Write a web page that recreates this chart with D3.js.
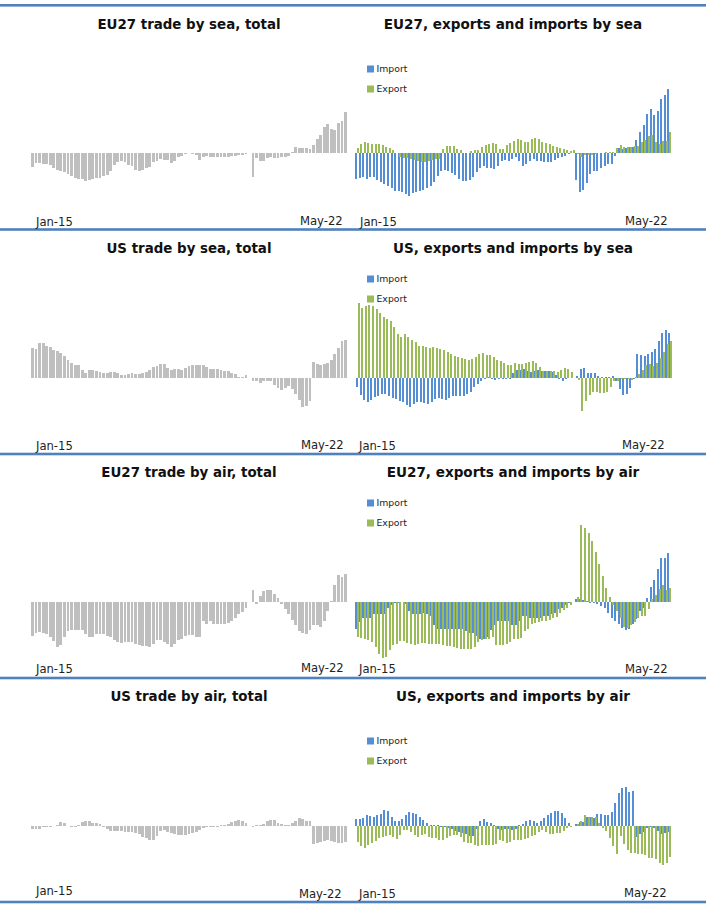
<!DOCTYPE html>
<html lang="en">
<head>
    <meta charset="UTF-8">
    <title>Trade by sea and air</title>
    <script src="https://cdn.jsdelivr.net/npm/d3@7/dist/d3.min.js"></script>
    <style>
        body { margin: 0; background: #fff; }
        svg { display: block; font-family: "DejaVu Sans", sans-serif; }
        .title { font-size: 13.4px; font-weight: bold; fill: #111; text-anchor: middle; }
        .title.right { font-size: 13.55px; }
        .tick-label { font-size: 11.6px; fill: #222; }
        .legend-label { font-size: 9.3px; fill: #222; }
        .bars rect { shape-rendering: crispEdges; }
    </style>
</head>
<body>
<script>

    /******* DATA *******/
    // Months, Jan-15 to May-22
    const months = d3.timeMonth.range(new Date(2015, 0, 1), new Date(2022, 5, 1)).map(d3.timeFormat("%b-%y"));
    const tickLabels = ["Jan-15", "May-22"];
    const seriesNames = ["Import", "Export"];

    const euSeaTotal = [
        -42,-30,-32,-34,-34,-36,-47,-52,-54,-58,
        -64,-70,-77,-79,-80,-85,-82,-78,-77,-75,
        -69,-67,-54,-37,-28,-26,-29,-37,-40,-52,
        -55,-52,-47,-42,-29,-24,-20,-22,-22,-30,
        -24,-12,-10,-4,-2,-4,-7,-22,-14,-10,
        -12,-12,-14,-14,-14,-12,-10,-10,-8,-8,
        -4,0,-72,-17,-25,-24,-15,-14,-17,-15,
        -12,-12,-10,2,18,13,15,15,12,24,
        42,54,78,87,70,69,88,96,122];
    const euSeaImport = [
        -79,-76,-72,-79,-74,-72,-82,-87,-94,-99,
        -107,-115,-115,-119,-125,-130,-120,-117,-115,-113,
        -106,-100,-87,-70,-55,-52,-55,-60,-67,-79,
        -85,-84,-82,-72,-57,-45,-40,-45,-45,-49,
        -39,-25,-22,-25,-18,-14,-25,-39,-34,-24,
        -20,-25,-24,-27,-27,-27,-22,-16,-13,-9,
        -4,0,-82,-117,-112,-90,-64,-55,-55,-45,
        -40,-34,-33,-10,13,12,15,17,17,38,
        62,83,116,130,113,125,161,173,191];
    const euSeaExport = [
        14,26,33,29,26,26,26,23,17,13,
        8,0,-12,-16,-15,-20,-23,-26,-27,-27,
        -26,-23,-20,-18,11,20,20,20,11,8,
        0,0,5,8,8,17,23,26,29,26,
        11,11,23,29,35,41,38,32,32,41,
        44,41,32,29,26,20,17,14,11,8,
        6,9,-3,-12,-8,-8,-6,-5,-2,0,
        3,3,3,14,23,18,17,17,20,21,
        33,39,51,54,33,27,36,36,63];

    const usSeaTotal = [
        90,87,105,105,97,93,84,81,75,66,
        54,45,39,39,24,15,24,24,21,18,
        15,15,18,18,15,9,9,12,15,12,
        12,15,18,24,32,37,42,42,30,25,
        27,27,25,30,37,39,39,39,39,33,
        27,27,27,25,22,21,15,12,3,4,
        9,0,-8,-9,-14,-10,-8,-9,-20,-30,
        -35,-30,-24,-33,-47,-65,-87,-83,-68,48,
        42,40,42,45,54,72,90,111,114];
    const usSeaImport = [
        -27,-50,-66,-72,-66,-57,-54,-48,-48,-54,
        -60,-63,-69,-72,-81,-87,-78,-72,-72,-75,
        -78,-72,-63,-60,-63,-66,-60,-54,-54,-54,
        -54,-48,-42,-27,-18,-9,-3,2,-2,-5,
        -3,-2,-2,-2,15,24,24,27,21,18,
        22,24,22,21,21,18,9,-3,-9,-3,
        1,0,6,27,30,15,15,15,6,3,
        3,3,6,-9,-33,-51,-48,-30,-3,72,
        69,66,72,78,87,111,135,144,135];
    const usSeaExport = [
        225,210,216,219,216,207,195,183,177,171,
        153,132,123,132,123,114,108,96,96,93,
        90,93,90,87,84,78,72,67,63,60,
        57,54,57,63,72,75,69,69,63,54,
        51,45,39,39,45,42,42,45,48,51,
        45,33,21,21,21,21,18,24,30,27,
        18,0,-6,-99,-69,-51,-42,-42,-45,-45,
        -42,-27,-9,-9,-3,-3,-2,-6,3,12,
        24,39,42,36,45,60,78,102,111];

    const euAirTotal = [
        -102,-94,-91,-93,-96,-106,-118,-136,-129,-106,
        -88,-85,-84,-84,-86,-98,-105,-105,-98,-96,
        -96,-102,-105,-115,-120,-123,-121,-121,-121,-126,
        -129,-132,-133,-135,-126,-115,-115,-120,-128,-136,
        -126,-114,-111,-102,-99,-99,-105,-105,-59,-66,
        -57,-66,-66,-66,-66,-63,-57,-48,-36,-31,
        -18,0,35,-6,16,32,36,34,22,11,
        -6,-21,-38,-54,-69,-87,-93,-96,-84,-69,
        -69,-75,-57,-27,3,50,80,74,83];
    const euAirImport = [
        -81,-60,-48,-48,-48,-36,-36,-36,-36,-18,
        -10,-5,-3,-2,-8,-27,-36,-36,-36,-33,
        -36,-43,-69,-83,-83,-83,-81,-81,-81,-81,
        -83,-88,-93,-94,-103,-111,-111,-105,-86,-69,
        -58,-58,-58,-58,-69,-71,-58,-43,-42,-48,
        -48,-49,-50,-43,-43,-38,-33,-23,-18,-10,
        -3,0,9,9,4,1,-3,-4,-7,-13,
        -18,-33,-48,-57,-68,-79,-84,-81,-66,-51,
        -27,-18,12,45,66,99,132,132,147];
    const euAirExport = [
        -105,-108,-111,-115,-121,-135,-156,-170,-167,-146,
        -131,-126,-119,-117,-123,-128,-131,-126,-125,-123,
        -128,-128,-128,-128,-131,-133,-133,-136,-140,-143,
        -143,-143,-143,-135,-121,-115,-111,-113,-105,-131,
        -131,-131,-128,-120,-111,-111,-108,-88,-83,-66,
        -65,-60,-58,-58,-56,-50,-46,-34,-25,-20,
        -10,0,15,231,222,207,183,150,114,78,
        42,15,-9,-28,-50,-75,-80,-70,-60,-50,
        -42,-42,-21,9,21,39,51,36,42];

    const usAirTotal = [
        -8,-10,-8,-4,-2,-2,-1,3,13,10,
        -1,-2,-3,2,12,15,15,10,8,5,
        -4,-10,-16,-16,-16,-16,-18,-18,-18,-22,
        -25,-33,-36,-42,-42,-30,-15,-12,-18,-22,
        -24,-27,-27,-27,-25,-22,-18,-12,-6,-3,
        -2,-2,-2,2,3,6,12,16,18,15,
        8,0,-2,2,3,6,14,18,17,10,
        5,3,3,10,14,24,21,14,15,-54,
        -51,-48,-44,-42,-45,-48,-50,-50,-48];
    const usAirImport = [
        21,21,24,33,30,27,33,36,48,45,
        27,15,15,21,33,42,39,36,27,18,
        9,3,3,3,-2,-3,-6,-9,-15,-18,
        -21,-24,-30,-30,-8,15,21,12,9,3,
        -10,-12,-9,-8,-12,-8,3,6,15,18,
        15,9,15,24,33,39,45,45,39,24,
        9,0,6,12,12,27,27,24,36,36,
        33,33,42,69,99,114,117,102,105,-33,
        -24,-18,-6,-3,-6,-15,-24,-21,-18];
    const usAirExport = [
        -48,-60,-66,-57,-51,-45,-36,-33,-30,-27,
        -33,-39,-27,-12,-12,-18,-27,-33,-27,-24,
        -33,-36,-36,-42,-42,-36,-30,-27,-27,-33,
        -48,-50,-50,-57,-60,-57,-57,-57,-57,-54,
        -42,-45,-50,-48,-42,-42,-42,-39,-36,-30,
        -27,-18,-12,-18,-24,-24,-21,-21,-15,-6,
        -3,0,6,15,33,27,27,27,9,-6,
        -15,-36,-60,-84,-30,-54,-72,-81,-81,-84,
        -84,-87,-96,-96,-99,-111,-117,-111,-93];

    /******* STYLING/FORMATTING *******/
    const width = 706;
    const height = 909;
    const colors = { Import: "#558ed5", Export: "#9bbb59", total: "#bfbfbf", rule: "#4f81bd" };

    // One row per trade flow. "base" is the zero line of the row, the rest place its texts
    const rows = [
        { base: 152.7, titleY: 29, total: euSeaTotal, imp: euSeaImport, exp: euSeaExport, rightX: 355,
          leftTitle: "EU27 trade by sea, total", rightTitle: "EU27, exports and imports by sea",
          legendY: 69, tickY: [226, 225, 226, 225], tickX: [36, 300, 360, 625] },
        { base: 378, titleY: 253, total: usSeaTotal, imp: usSeaImport, exp: usSeaExport, rightX: 356,
          leftTitle: "US trade by sea, total", rightTitle: "US, exports and imports by sea",
          legendY: 279, tickY: [450, 449, 450, 449], tickX: [36, 301, 359, 622] },
        { base: 601.7, titleY: 477, total: euAirTotal, imp: euAirImport, exp: euAirExport, rightX: 355,
          leftTitle: "EU27 trade by air, total", rightTitle: "EU27, exports and imports by air",
          legendY: 503, tickY: [673, 672, 673, 673], tickX: [36, 301, 359, 625] },
        { base: 826, titleY: 701, total: usAirTotal, imp: usAirImport, exp: usAirExport, rightX: 355,
          leftTitle: "US trade by air, total", rightTitle: "US, exports and imports by air",
          legendY: 741, tickY: [895, 898, 898, 897], tickX: [36, 299, 359, 624] }
    ];

    const svg = d3.select("body").append("svg")
        .attr("width", width)
        .attr("height", height)
        .attr("viewBox", `0 0 ${width} ${height}`);

    // Blue rules between the rows
    svg.selectAll(".rule")
        .data([5.3, 229.5, 454, 678, 902])
        .enter()
        .append("rect")
        .attr("class", "rule")
        .attr("x", 0)
        .attr("y", d => d - 1.3)
        .attr("width", width)
        .attr("height", 2.6)
        .attr("fill", colors.rule);

    /******* CHARTS *******/
    rows.forEach(row => {
        const g = svg.append("g");

        // 300 data units are 100 pixels
        const yScale = d3.scaleLinear()
            .domain([-300, 300])
            .range([row.base + 100, row.base - 100]);

        const barTop = d => Math.min(yScale(d), yScale(0));
        const barHeight = d => Math.abs(yScale(d) - yScale(0));

        // Left chart: total
        const xLeft = d3.scaleBand()
            .domain(months)
            .range([31, 347])
            .paddingInner(0.2);

        g.append("g")
            .attr("class", "bars")
            .selectAll("rect")
            .data(row.total)
            .enter()
            .append("rect")
            .attr("x", (d, i) => xLeft(months[i]))
            .attr("y", barTop)
            .attr("width", xLeft.bandwidth())
            .attr("height", barHeight)
            .attr("fill", colors.total);

        // Right chart: import and export side by side
        const xRight = d3.scaleBand()
            .domain(months)
            .range([row.rightX, row.rightX + 316]);
        const xSeries = d3.scaleBand()
            .domain(seriesNames)
            .range([0, xRight.bandwidth()]);

        [["Import", row.imp], ["Export", row.exp]].forEach(([name, values]) => {
            g.append("g")
                .attr("class", "bars")
                .selectAll("rect")
                .data(values)
                .enter()
                .append("rect")
                .attr("x", (d, i) => xRight(months[i]) + xSeries(name))
                .attr("y", barTop)
                .attr("width", 2)
                .attr("height", barHeight)
                .attr("fill", colors[name]);
        });

        // Titles
        g.append("text").attr("class", "title").attr("x", 189).attr("y", row.titleY).text(row.leftTitle);
        g.append("text").attr("class", "title right").attr("x", 513).attr("y", row.titleY).text(row.rightTitle);

        // First and last month under each chart
        row.tickX.forEach((x, i) => {
            g.append("text")
                .attr("class", "tick-label")
                .attr("x", x)
                .attr("y", row.tickY[i])
                .text(tickLabels[i % 2]);
        });

        // Legend
        seriesNames.forEach((name, i) => {
            const cy = row.legendY + i * 20;
            g.append("rect")
                .attr("x", 367)
                .attr("y", cy - 3.5)
                .attr("width", 7)
                .attr("height", 7)
                .attr("fill", colors[name]);
            g.append("text")
                .attr("class", "legend-label")
                .attr("x", 376.5)
                .attr("y", cy + 3)
                .text(name);
        });
    });

</script>
</body>
</html>
